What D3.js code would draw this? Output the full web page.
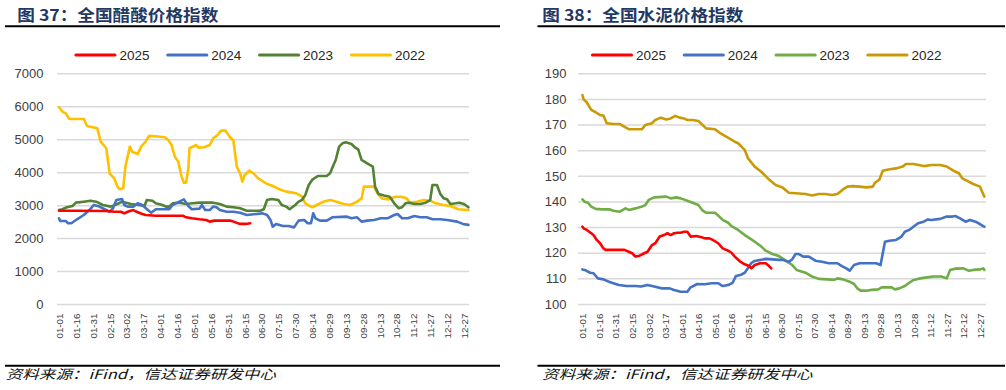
<!DOCTYPE html>
<html><head><meta charset="utf-8">
<script src="https://cdn.jsdelivr.net/npm/d3@7/dist/d3.min.js"></script>
<style>
html,body{margin:0;padding:0;background:#fff;}
svg{display:block;font-family:"Liberation Sans",Arial,sans-serif;}
</style></head>
<body>
<svg id="c" width="1006" height="390"></svg>
<script>
// ---------- tick labels (category axis, every 15 days) ----------
const tickLabels = ["01-01","01-16","01-31","02-15","03-02","03-17","04-01","04-16","05-01","05-16","05-31","06-15","06-30","07-15","07-30","08-14","08-29","09-13","09-28","10-13","10-28","11-12","11-27","12-12","12-27"];
const seriesNames = ["2025","2024","2023","2022"];

// ---------- Chart 37: acetic acid price index ----------
const acetic2025 = [["01-01",2830],["01-16",2830],["02-12",2820],["02-19",2800],["02-25",2800],["02-28",2750],["03-03",2800],["03-08",2850],["03-11",2800],["03-16",2730],["03-19",2700],["03-28",2680],["04-21",2680],["04-24",2630],["04-29",2600],["05-06",2570],["05-12",2550],["05-15",2500],["05-19",2530],["06-02",2530],["06-05",2500],["06-11",2430],["06-16",2430],["06-20",2450]];
const acetic2024 = [["01-01",2600],["01-02",2520],["01-07",2520],["01-09",2450],["01-12",2450],["01-17",2570],["01-23",2700],["01-28",2850],["02-01",3005],["02-06",2955],["02-15",2800],["02-18",2905],["02-21",3155],["02-26",3185],["02-28",3005],["03-03",2955],["03-08",2955],["03-12",3055],["03-16",3005],["03-21",2850],["03-24",2770],["03-28",2875],["04-09",2875],["04-12",3005],["04-15",3055],["04-18",3105],["04-22",3175],["04-26",2975],["04-29",2875],["05-06",2895],["05-08",3005],["05-11",2850],["05-15",2850],["05-18",2955],["05-21",2935],["05-24",2850],["05-30",2800],["06-05",2800],["06-11",2770],["06-17",2700],["07-01",2750],["07-05",2700],["07-08",2550],["07-10",2345],["07-13",2430],["07-19",2365],["07-24",2365],["07-29",2325],["08-02",2530],["08-07",2550],["08-10",2450],["08-13",2450],["08-15",2750],["08-17",2600],["08-21",2530],["08-27",2530],["09-01",2630],["09-14",2650],["09-18",2600],["09-23",2630],["09-27",2500],["10-02",2530],["10-08",2550],["10-14",2600],["10-20",2600],["10-26",2700],["10-29",2730],["11-02",2600],["11-07",2600],["11-13",2670],["11-18",2630],["11-24",2630],["11-29",2570],["12-06",2570],["12-12",2550],["12-21",2500],["12-26",2430],["12-31",2400]];
const acetic2023 = [["01-01",2850],["01-04",2875],["01-08",2935],["01-13",2975],["01-16",3075],["01-23",3105],["01-29",3135],["02-03",3105],["02-09",3005],["02-16",2955],["02-22",3035],["02-26",3105],["03-06",3035],["03-13",3005],["03-18",2975],["03-20",3155],["03-25",3135],["03-28",3055],["04-03",3005],["04-06",2955],["04-09",2955],["04-12",3055],["04-18",3075],["04-24",3035],["04-30",3055],["05-06",3075],["05-18",3075],["05-24",3035],["05-30",2955],["06-05",2935],["06-11",2905],["06-17",2830],["06-29",2830],["07-02",2875],["07-05",3155],["07-09",3185],["07-15",3155],["07-18",3005],["07-22",2955],["07-25",2875],["07-30",3005],["08-02",3105],["08-05",3155],["08-08",3310],["08-11",3610],["08-14",3765],["08-19",3885],["08-27",3885],["08-30",3965],["09-02",4220],["09-04",4370],["09-07",4775],["09-10",4875],["09-13",4905],["09-18",4855],["09-21",4755],["09-24",4695],["09-27",4370],["10-02",4270],["10-07",4170],["10-09",3560],["10-12",3340],["10-17",3290],["10-22",3255],["10-26",3055],["10-30",2905],["11-02",2935],["11-05",3055],["11-08",3075],["11-13",3035],["11-18",3035],["11-23",3075],["11-27",3155],["11-29",3610],["12-03",3610],["12-06",3340],["12-09",3205],["12-12",3175],["12-15",3035],["12-20",3055],["12-23",3075],["12-27",3035],["12-31",2935]];
const acetic2022 = [["01-01",5970],["01-04",5840],["01-07",5785],["01-10",5615],["01-23",5615],["01-26",5400],["02-04",5330],["02-07",4925],["02-12",4725],["02-15",3965],["02-19",3815],["02-22",3560],["02-24",3480],["02-27",3510],["03-01",4170],["03-05",4775],["03-07",4620],["03-12",4550],["03-15",4775],["03-19",4925],["03-22",5100],["03-30",5080],["04-05",5060],["04-08",4980],["04-11",4825],["04-14",4470],["04-17",4320],["04-20",3865],["04-22",3680],["04-24",3680],["04-26",4120],["04-27",4725],["05-03",4825],["05-05",4745],["05-10",4755],["05-15",4825],["05-18",5030],["05-22",5130],["05-25",5260],["05-29",5260],["06-02",5060],["06-05",4960],["06-08",4170],["06-11",3965],["06-13",3710],["06-15",3915],["06-19",4045],["06-23",3965],["06-27",3815],["07-04",3660],["07-10",3580],["07-16",3480],["07-22",3410],["07-31",3360],["08-05",3255],["08-08",3055],["08-14",2935],["08-20",3035],["08-24",3105],["08-30",3155],["09-05",3105],["09-11",3035],["09-17",3005],["09-23",3105],["09-27",3205],["09-29",3560],["10-08",3560],["10-11",3360],["10-15",3205],["10-21",3175],["10-27",3255],["11-01",3255],["11-06",3205],["11-09",3075],["11-15",3105],["11-21",3155],["11-27",3135],["12-02",3055],["12-09",3005],["12-15",2975],["12-22",2875],["12-31",2850]];
const aceticTicks = [0,1000,2000,3000,4000,5000,6000,7000];

// ---------- Chart 38: cement price index ----------
const cement2025 = [["01-01",130.2],["01-02",129.5],["01-05",128.9],["01-09",127.6],["01-11",126.9],["01-14",125.0],["01-17",123.7],["01-20",121.7],["01-22",121.1],["01-29",121.1],["02-08",121.1],["02-12",120.4],["02-15",119.8],["02-18",118.5],["02-21",118.7],["02-26",119.8],["03-01",120.4],["03-05",123.0],["03-08",123.7],["03-12",126.3],["03-16",126.9],["03-19",127.6],["03-22",126.9],["03-25",127.6],["03-28",127.8],["03-31",127.8],["04-03",128.2],["04-06",128.2],["04-09",126.3],["04-14",126.5],["04-19",126.0],["04-22",125.6],["04-26",125.6],["04-29",125.0],["05-04",123.7],["05-08",121.7],["05-13",120.8],["05-16",120.0],["05-19",118.5],["05-24",116.5],["05-28",115.5],["06-01",114.8],["06-03",113.9],["06-06",115.2],["06-11",115.9],["06-16",115.9],["06-19",114.8],["06-21",113.9]];
const cement2024 = [["01-01",113.5],["01-03",113.3],["01-08",112.2],["01-11",112.0],["01-15",110.0],["01-20",109.6],["01-25",108.7],["01-29",108.1],["02-03",107.4],["02-10",107.0],["02-18",107.0],["02-23",106.8],["03-01",107.4],["03-07",106.8],["03-14",106.1],["03-21",106.1],["03-25",105.5],["03-31",104.8],["04-06",104.8],["04-09",106.5],["04-15",107.8],["04-22",107.7],["04-28",108.1],["05-04",108.1],["05-08",107.0],["05-13",107.4],["05-17",108.3],["05-20",110.9],["05-24",111.3],["05-28",112.2],["05-31",114.0],["06-03",116.0],["06-06",116.8],["06-11",117.2],["06-16",117.6],["06-22",117.4],["06-28",117.2],["07-02",117.2],["07-07",116.5],["07-10",117.4],["07-13",119.5],["07-16",119.5],["07-20",118.5],["07-25",118.5],["07-31",116.9],["08-06",116.5],["08-12",115.9],["08-20",115.9],["08-24",114.8],["08-28",113.9],["08-31",113.0],["09-04",115.2],["09-09",115.9],["09-15",115.9],["09-24",115.9],["09-28",115.2],["10-02",124.3],["10-06",124.7],["10-12",125.0],["10-17",126.3],["10-20",128.2],["10-24",128.9],["10-28",130.2],["11-01",131.5],["11-06",132.1],["11-10",133.0],["11-13",132.8],["11-21",133.2],["11-27",134.1],["12-02",134.1],["12-05",134.3],["12-09",133.4],["12-14",132.1],["12-18",132.8],["12-23",132.1],["12-27",131.2],["12-30",130.4],["12-31",130.2]];
const cement2023 = [["01-01",140.8],["01-03",139.9],["01-06",139.5],["01-09",138.0],["01-13",137.1],["01-19",136.9],["01-26",136.9],["01-29",136.4],["02-04",136.0],["02-09",137.3],["02-12",136.7],["02-18",137.3],["02-24",138.0],["02-27",138.6],["03-02",140.6],["03-07",141.6],["03-18",141.9],["03-22",141.2],["03-27",141.6],["03-31",141.2],["04-06",140.3],["04-12",139.3],["04-16",138.6],["04-20",136.4],["04-23",135.6],["05-01",135.6],["05-05",134.1],["05-08",132.8],["05-13",131.7],["05-16",130.4],["05-22",128.9],["05-28",126.9],["06-03",125.2],["06-08",123.7],["06-12",122.4],["06-16",120.8],["06-22",119.5],["06-28",118.7],["07-04",116.9],["07-10",115.2],["07-14",113.3],["07-22",112.2],["07-28",110.7],["08-03",109.8],["08-11",109.6],["08-17",109.4],["08-20",110.0],["08-25",109.6],["08-31",108.7],["09-04",107.8],["09-07",106.1],["09-10",105.2],["09-15",105.2],["09-20",105.5],["09-26",105.7],["09-29",106.5],["10-08",106.5],["10-11",105.7],["10-15",106.1],["10-20",107.0],["10-24",108.3],["10-28",109.4],["11-03",110.0],["11-09",110.4],["11-15",110.7],["11-22",110.7],["11-27",110.0],["11-30",113.3],["12-05",113.8],["12-12",113.9],["12-17",113.0],["12-21",113.3],["12-27",113.5],["12-30",113.9],["12-31",113.3]];
const cement2022 = [["01-01",181.5],["01-02",179.9],["01-05",178.6],["01-09",175.7],["01-13",174.8],["01-17",173.7],["01-20",173.5],["01-23",170.5],["01-29",170.2],["02-04",170.2],["02-09",168.9],["02-12",168.2],["02-24",168.2],["02-27",169.8],["03-05",170.5],["03-08",171.8],["03-13",172.7],["03-18",172.0],["03-22",172.4],["03-26",173.4],["03-30",172.7],["04-03",172.4],["04-06",171.8],["04-11",171.8],["04-16",171.4],["04-20",169.8],["04-23",168.5],["05-01",168.2],["05-05",166.9],["05-10",165.6],["05-14",164.6],["05-19",163.3],["05-22",162.7],["05-25",161.4],["05-28",160.1],["05-31",156.8],["06-06",153.6],["06-12",151.6],["06-18",149.0],["06-25",146.4],["07-01",145.5],["07-07",143.4],["07-13",143.2],["07-22",142.9],["07-28",142.3],["08-03",142.9],["08-09",142.9],["08-15",142.5],["08-20",142.9],["08-25",144.7],["08-29",145.8],["09-03",146.0],["09-09",145.8],["09-15",145.5],["09-21",145.8],["09-23",147.3],["09-27",148.6],["09-30",152.0],["10-05",152.5],["10-12",152.9],["10-18",153.6],["10-21",154.6],["10-28",154.6],["11-06",153.8],["11-13",154.2],["11-21",154.2],["11-27",153.6],["12-03",152.0],["12-08",151.0],["12-11",149.0],["12-15",148.1],["12-21",146.8],["12-27",145.8],["12-29",143.8],["12-31",141.9]];
const cementTicks = [100,110,120,130,140,150,160,170,180,190];

// ---------- helpers ----------
const parseDate = d3.timeParse("%Y-%m-%d");
const jan1 = parseDate("2023-01-01");
const dayOf = s => d3.timeDay.count(jan1, parseDate("2023-" + s));

const svg = d3.select("#c");

function drawChart(cfg) {
  const g = svg.append("g");
  // title
  g.append("text").attr("x", cfg.titleX).attr("y", 21)
    .attr("textLength", 201).attr("lengthAdjust", "spacingAndGlyphs")
    .style("font-family", "'Noto Sans CJK SC',sans-serif").style("font-weight", "bold")
    .style("font-size", "16px").attr("fill", "#1F3864").text(cfg.title);
  // rules
  g.append("line").attr("x1", cfg.ruleX1).attr("x2", cfg.ruleX2).attr("y1", 26.3).attr("y2", 26.3)
    .attr("stroke", "#000").attr("stroke-width", 2);
  g.append("line").attr("x1", cfg.ruleX1).attr("x2", cfg.ruleX2).attr("y1", 365.8).attr("y2", 365.8)
    .attr("stroke", "#000").attr("stroke-width", 2);
  // source
  g.append("text").attr("x", cfg.titleX - (cfg.left ? 11.5 : 0)).attr("y", 379)
    .attr("textLength", 270).attr("lengthAdjust", "spacingAndGlyphs")
    .style("font-family", "'Noto Sans CJK SC',sans-serif").style("font-style", "italic")
    .style("font-size", "13px").attr("fill", "#111").text("资料来源：iFind，信达证券研发中心");

  const x = d3.scaleLinear().domain(cfg.xDomain).range(cfg.xRange);
  const y = d3.scaleLinear().domain([cfg.yTicks[0], cfg.yTicks[cfg.yTicks.length - 1]]).range([304, 73.3]);

  // gridlines + y labels
  const ya = g.append("g").attr("transform", `translate(${cfg.xRange[0]},0)`)
    .call(d3.axisLeft(y).tickValues(cfg.yTicks).tickSize(-(cfg.xRange[1] - cfg.xRange[0])).tickPadding(13).tickFormat(d3.format("d")));
  ya.select(".domain").remove();
  ya.selectAll(".tick line").attr("stroke", "#D9D9D9").attr("stroke-width", 1.5);
  ya.selectAll(".tick text").attr("fill", "#404040").style("font-size", "13px")
    .style("font-family", "'Liberation Sans',Arial,sans-serif").attr("x", cfg.yLabelX - cfg.xRange[0]);

  // x axis
  const tickDays = tickLabels.map(dayOf);
  const xa = g.append("g").attr("transform", "translate(0,304)")
    .call(d3.axisBottom(x).tickValues(tickDays).tickSize(0).tickFormat((d, i) => tickLabels[i]));
  xa.select(".domain").remove();
  xa.selectAll(".tick text").attr("transform", "rotate(-90)").attr("x", -9.5).attr("y", 0)
    .attr("dy", "0.35em").attr("text-anchor", "end").attr("fill", "#404040")
    .style("font-size", "9.8px").style("font-family", "'Liberation Sans',Arial,sans-serif");

  // lines (draw order: 2022 first, 2025 on top)
  const line = d3.line().x(d => x(dayOf(d[0]))).y(d => y(d[1]));
  [3, 2, 1, 0].forEach(i => {
    g.append("path").datum(cfg.series[i]).attr("d", line).attr("fill", "none")
      .attr("stroke", cfg.colors[i]).attr("stroke-width", 2.6)
      .attr("stroke-linejoin", "round").attr("stroke-linecap", "round");
  });

  // legend
  seriesNames.forEach((name, i) => {
    const lx = cfg.legendX + i * 91.8;
    g.append("line").attr("x1", lx).attr("x2", lx + 39).attr("y1", 55).attr("y2", 55)
      .attr("stroke", cfg.colors[i]).attr("stroke-width", 3.2).attr("stroke-linecap", "round");
    g.append("text").attr("x", lx + 43.5).attr("y", 59.8).attr("fill", "#262626")
      .style("font-size", "13.5px").style("font-family", "'Liberation Sans',Arial,sans-serif").text(name);
  });
}

drawChart({
  left: true,
  title: "图 37：全国醋酸价格指数", titleX: 17.3, ruleX1: 5, ruleX2: 500,
  xDomain: [-1.8, 364.5], xRange: [57, 469], yLabelX: 43.5,
  yTicks: aceticTicks,
  series: [acetic2025, acetic2024, acetic2023, acetic2022],
  colors: ["#FF0000", "#4472C4", "#548235", "#FFC000"],
  legendX: 76
});
drawChart({
  left: false,
  title: "图 38：全国水泥价格指数", titleX: 542.3, ruleX1: 537.5, ruleX2: 1005,
  xDomain: [-4, 365.5], xRange: [578, 986], yLabelX: 566.5,
  yTicks: cementTicks,
  series: [cement2025, cement2024, cement2023, cement2022],
  colors: ["#FF0000", "#4472C4", "#70AD47", "#C99A06"],
  legendX: 592.5
});
</script>
</body></html>
